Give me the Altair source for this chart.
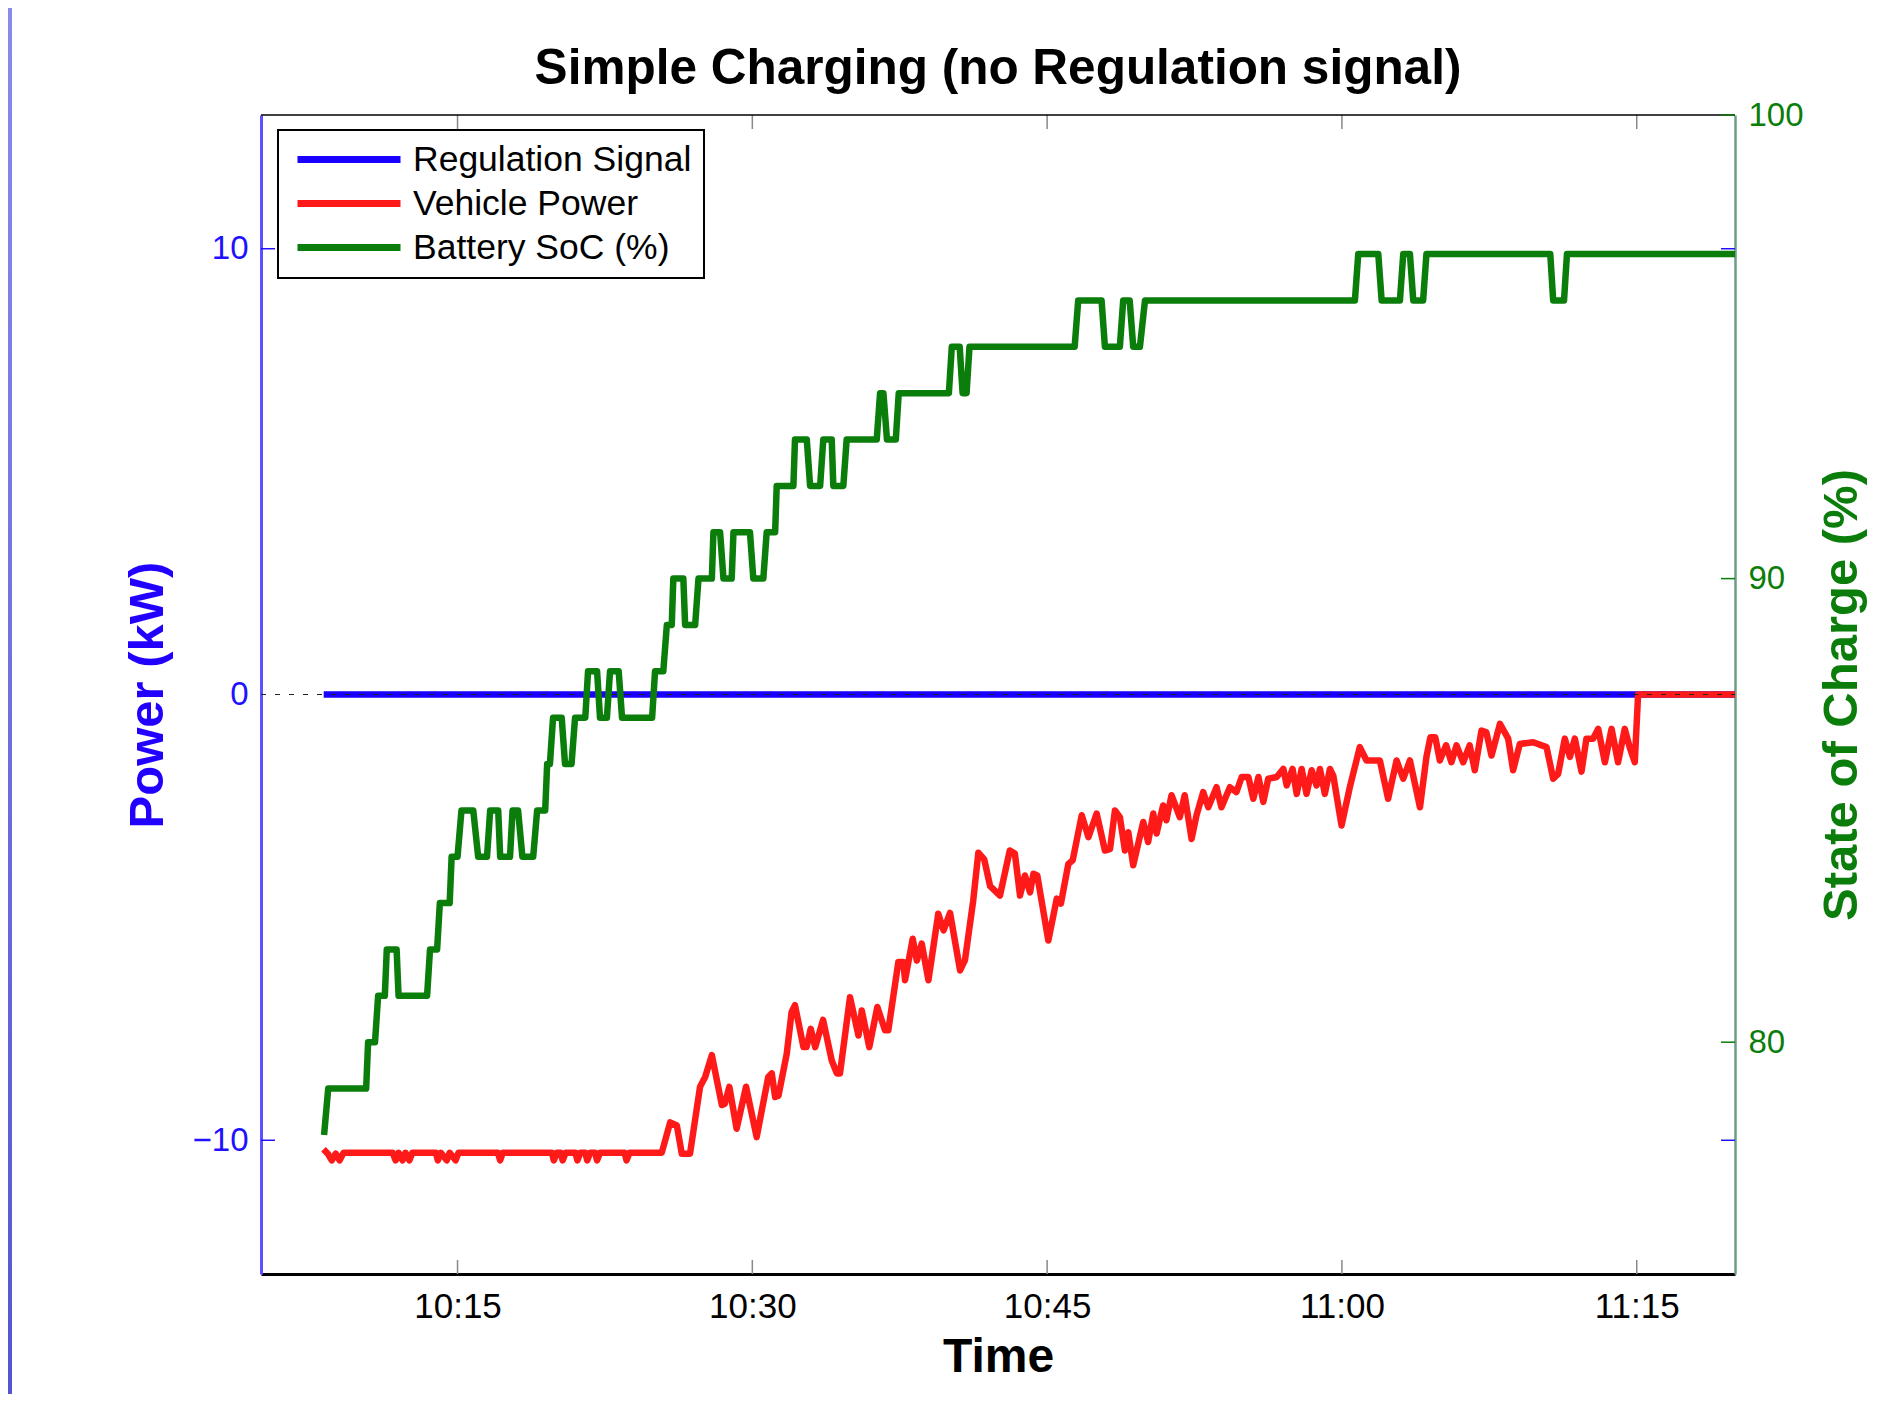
import altair as alt
import pandas as pd

# ---------------- data (time = minutes after 10:00) ----------------
SERIES = ["Regulation Signal", "Vehicle Power", "Battery SoC (%)"]
COLORS = ["#1a00ff", "#ff1a1a", "#0b7d0b"]

X_DOMAIN = [5, 80]
X_TICKS = [15, 30, 45, 60, 75]
KW_DOMAIN = [-13, 13]
KW_TICKS = [-10, 0, 10]
SOC_DOMAIN = [75, 100]
SOC_TICKS = [80, 90, 100]

REG = [(8.19, 0.0), (80.0, 0.0)]

PWR = [
    (8.18, -10.2), (8.4, -10.3), (8.6, -10.45), (8.8, -10.3), (9.0, -10.45), (9.2, -10.28),
    (11.7, -10.28), (11.85, -10.45), (12.0, -10.28), (12.2, -10.45), (12.35, -10.28),
    (12.55, -10.45), (12.7, -10.28), (13.9, -10.28), (14.0, -10.45), (14.15, -10.28),
    (14.45, -10.45), (14.6, -10.28), (14.9, -10.45), (15.05, -10.28), (17.05, -10.28),
    (17.17, -10.45), (17.3, -10.28), (19.8, -10.28), (19.9, -10.45), (20.05, -10.28),
    (20.25, -10.28), (20.35, -10.45), (20.5, -10.28), (21.0, -10.28), (21.1, -10.45),
    (21.25, -10.28), (21.5, -10.28), (21.6, -10.45), (21.75, -10.28), (22.0, -10.28),
    (22.1, -10.45), (22.25, -10.28), (23.5, -10.28), (23.6, -10.45), (23.75, -10.28),
    (25.39, -10.28), (25.82, -9.6), (26.16, -9.67), (26.41, -10.3), (26.83, -10.3),
    (27.34, -8.8), (27.6, -8.58), (27.94, -8.09), (28.45, -9.21), (28.6, -9.18),
    (28.83, -8.8), (29.2, -9.74), (29.68, -8.8), (30.22, -9.93), (30.81, -8.58),
    (30.99, -8.5), (31.16, -9.03), (31.33, -9.0), (31.75, -8.06), (32.0, -7.12),
    (32.17, -6.97), (32.6, -7.91), (32.76, -7.91), (32.97, -7.5), (33.2, -7.91),
    (33.35, -7.68), (33.6, -7.3), (34.04, -8.21), (34.3, -8.5), (34.46, -8.5),
    (34.97, -6.79), (35.4, -7.65), (35.57, -7.09), (35.95, -7.91), (36.36, -7.01),
    (36.75, -7.53), (36.92, -7.53), (37.43, -6.0), (37.68, -6.0), (37.77, -6.41),
    (38.16, -5.48), (38.37, -5.97), (38.62, -5.59), (38.96, -6.41), (39.46, -4.92),
    (39.73, -5.29), (40.06, -4.9), (40.57, -6.19), (40.82, -5.96), (41.24, -4.62),
    (41.5, -3.55), (41.8, -3.7), (42.1, -4.3), (42.6, -4.51), (43.1, -3.5),
    (43.36, -3.57), (43.62, -4.51), (43.87, -4.06), (44.13, -4.44), (44.3, -4.02),
    (44.5, -4.06), (45.06, -5.52), (45.49, -4.58), (45.7, -4.69), (46.08, -3.8),
    (46.3, -3.72), (46.76, -2.71), (47.1, -3.2), (47.52, -2.67), (47.94, -3.5),
    (48.2, -3.47), (48.45, -2.6), (48.7, -2.75), (48.96, -3.5), (49.13, -3.09),
    (49.38, -3.83), (49.89, -2.86), (50.14, -3.31), (50.4, -2.67), (50.57, -3.12),
    (50.9, -2.49), (51.07, -2.82), (51.33, -2.26), (51.75, -2.75), (52.0, -2.26),
    (52.35, -3.24), (52.6, -2.71), (52.94, -2.19), (53.2, -2.53), (53.62, -2.08),
    (53.87, -2.53), (54.3, -2.08), (54.63, -2.19), (54.9, -1.85), (55.24, -1.85),
    (55.49, -2.34), (55.75, -1.85), (56.0, -2.41), (56.25, -1.89), (56.68, -1.85),
    (57.02, -1.67), (57.19, -2.04), (57.49, -1.67), (57.7, -2.23), (57.95, -1.67),
    (58.2, -2.23), (58.46, -1.7), (58.71, -2.04), (58.88, -1.67), (59.13, -2.23),
    (59.39, -1.67), (59.56, -1.82), (59.98, -2.94), (60.4, -2.08), (60.91, -1.18),
    (61.25, -1.48), (61.93, -1.48), (62.35, -2.34), (62.78, -1.48), (63.12, -1.89),
    (63.46, -1.48), (63.97, -2.53), (64.3, -1.4), (64.5, -0.96), (64.75, -0.96),
    (64.98, -1.48), (65.3, -1.14), (65.57, -1.52), (65.83, -1.14), (66.17, -1.52),
    (66.5, -1.14), (66.76, -1.7), (67.1, -0.81), (67.35, -0.85), (67.61, -1.37),
    (68.04, -0.66), (68.46, -0.99), (68.71, -1.7), (69.05, -1.11), (69.73, -1.07),
    (70.41, -1.18), (70.75, -1.89), (71.0, -1.78), (71.34, -0.99), (71.6, -1.4),
    (71.85, -0.99), (72.19, -1.73), (72.44, -0.99), (72.78, -0.99), (73.04, -0.77),
    (73.38, -1.52), (73.72, -0.77), (74.05, -1.52), (74.39, -0.77), (74.64, -1.18),
    (74.9, -1.52), (75.07, 0.0), (80.0, 0.0),
]

SOC = [
    (8.21, 78), (8.42, 79), (10.35, 79), (10.45, 80), (10.8, 80), (10.96, 81),
    (11.3, 81), (11.4, 82), (11.9, 82), (12.0, 81), (13.45, 81), (13.6, 82),
    (13.96, 82), (14.1, 83), (14.6, 83), (14.7, 84), (15.0, 84), (15.2, 85),
    (15.8, 85), (16.05, 84), (16.5, 84), (16.66, 85), (17.07, 85), (17.17, 84),
    (17.67, 84), (17.8, 85), (18.08, 85), (18.3, 84), (18.85, 84), (19.05, 85),
    (19.46, 85), (19.56, 86), (19.7, 86), (19.86, 87), (20.3, 87), (20.47, 86),
    (20.8, 86), (20.98, 87), (21.5, 87), (21.64, 88), (22.1, 88), (22.25, 87),
    (22.6, 87), (22.76, 88), (23.2, 88), (23.37, 87), (24.9, 87), (25.05, 88),
    (25.47, 88), (25.65, 89), (25.9, 89), (25.98, 90), (26.49, 90), (26.58, 89),
    (27.09, 89), (27.26, 90), (27.94, 90), (28.02, 91), (28.36, 91), (28.53, 90),
    (28.95, 90), (29.04, 91), (29.88, 91), (30.05, 90), (30.56, 90), (30.73, 91),
    (31.16, 91), (31.24, 92), (32.09, 92), (32.17, 93), (32.77, 93), (32.94, 92),
    (33.45, 92), (33.61, 93), (34.04, 93), (34.12, 92), (34.63, 92), (34.8, 93),
    (36.33, 93), (36.5, 94), (36.67, 94), (36.85, 93), (37.3, 93), (37.45, 94),
    (40.0, 94), (40.15, 95), (40.55, 95), (40.7, 94), (40.9, 94), (41.05, 95),
    (46.4, 95), (46.58, 96), (47.77, 96), (47.94, 95), (48.7, 95), (48.87, 96),
    (49.2, 96), (49.38, 95), (49.72, 95), (49.98, 96), (60.66, 96), (60.83, 97),
    (61.85, 97), (62.02, 96), (62.95, 96), (63.12, 97), (63.46, 97), (63.63, 96),
    (64.13, 96), (64.3, 97), (70.6, 97), (70.75, 96), (71.3, 96), (71.45, 97),
    (80.0, 97),
]

# ---------------- layout / style ----------------
W, H = 1474, 1159
PAD = {"left": 253, "top": 107, "right": 140, "bottom": 120}
FONT = "Liberation Sans"
TICK = 14
BLUE_TXT = "#2010ff"
GREEN_TXT = "#0b7d0b"


def frame(pairs, name):
    return pd.DataFrame({"t": [p[0] for p in pairs],
                         "v": [p[1] for p in pairs],
                         "series": name})


reg_df = frame(REG, SERIES[0])
pwr_df = frame(PWR, SERIES[1])
soc_df = frame(SOC, SERIES[2])

x_enc = alt.X(
    "t:Q",
    scale=alt.Scale(domain=X_DOMAIN, nice=False, zero=False),
    axis=alt.Axis(
        values=X_TICKS,
        labelExpr="(10 + floor(datum.value / 60)) + ':' + format(datum.value % 60, '02')",
        title="Time", ticks=False, grid=False,
        domainColor="black", domainWidth=3,
        labelFont=FONT, labelFontSize=35, labelColor="black", labelPadding=15,
        labelFlush=False, labelOverlap=False,
        titleFont=FONT, titleFontSize=48, titleFontWeight="bold", titleColor="black",
        titleY=97, titleBaseline="alphabetic",
    ),
)

y_left = alt.Y(
    "v:Q",
    scale=alt.Scale(domain=KW_DOMAIN, nice=False, zero=False),
    axis=alt.Axis(
        orient="left", values=KW_TICKS, title="Power (kW)", ticks=False, grid=False,
        domainColor="#5c50ff", domainWidth=3,
        labelFont=FONT, labelFontSize=33, labelColor=BLUE_TXT, labelPadding=13,
        labelFlush=False, labelOverlap=False,
        titleFont=FONT, titleFontSize=49, titleFontWeight="bold", titleColor="#2200ff",
        titleAngle=270, titleX=-99, titleBaseline="alphabetic",
    ),
)

y_right = alt.Y(
    "v:Q",
    scale=alt.Scale(domain=SOC_DOMAIN, nice=False, zero=False),
    axis=alt.Axis(
        orient="right", values=SOC_TICKS, title="State of Charge (%)", ticks=False, grid=False,
        domainColor="#6b9c84", domainWidth=2.5,
        labelFont=FONT, labelFontSize=33, labelColor=GREEN_TXT, labelPadding=13,
        labelFlush=False, labelOverlap=False,
        titleFont=FONT, titleFontSize=49, titleFontWeight="bold", titleColor=GREEN_TXT,
        titleAngle=270, titleX=121, titleBaseline="alphabetic",
    ),
)

color_enc = alt.Color(
    "series:N",
    scale=alt.Scale(domain=SERIES, range=COLORS),
    legend=alt.Legend(
        orient="none", legendX=17, legendY=15, title=None,
        symbolType="stroke", symbolSize=103 * 103, symbolStrokeWidth=7,
        clipHeight=35, rowPadding=8, labelOffset=9, symbolOffset=4,
        labelFont=FONT, labelFontSize=35.5, labelColor="black", labelLimit=0,
        padding=12, strokeColor="black", fillColor="white",
    ),
)

line_style = dict(strokeWidth=6.5, strokeJoin="round")

dummy = pd.DataFrame({"a": [0]})
band = alt.Chart(dummy).mark_rect(
    fill={"gradient": "linear", "x1": 0, "x2": 0, "y1": 0, "y2": 1,
          "stops": [{"offset": 0, "color": "#8a8aec"}, {"offset": 1, "color": "#5555d0"}]}
).encode(x=alt.value(-PAD["left"]), x2=alt.value(-PAD["left"] + 4),
         y=alt.value(-PAD["top"]), y2=alt.value(H + PAD["bottom"]))

blue = alt.Chart(reg_df).mark_line(**line_style).encode(x=x_enc, y=y_left, color=color_enc)
red = alt.Chart(pwr_df).mark_line(**line_style).encode(x=x_enc, y=y_left, color=color_enc)

zero_df = pd.DataFrame({"v": [0]})
zero_line = alt.Chart(zero_df).mark_rule(strokeDash=[5, 9], strokeWidth=1.2, color="#222222").encode(
    y=y_left, x=alt.value(0), x2=alt.value(W))

kw_tick_df = pd.DataFrame({"v": [k for k in KW_TICKS if k != 0]})
kw_ticks_l = alt.Chart(kw_tick_df).mark_rule(color=BLUE_TXT, strokeWidth=1.5).encode(
    y=y_left, x=alt.value(0), x2=alt.value(TICK))
kw_ticks_r = alt.Chart(kw_tick_df).mark_rule(color=BLUE_TXT, strokeWidth=1.5).encode(
    y=y_left, x=alt.value(W - TICK), x2=alt.value(W))

xt_df = pd.DataFrame({"t": X_TICKS})
x_ticks_b = alt.Chart(xt_df).mark_rule(color="#888888", strokeWidth=1.5).encode(
    x=x_enc, y=alt.value(H - TICK), y2=alt.value(H))
x_ticks_t = alt.Chart(xt_df).mark_rule(color="#888888", strokeWidth=1.5).encode(
    x=x_enc, y=alt.value(0), y2=alt.value(TICK))
top_line = alt.Chart(dummy).mark_rule(color="black", strokeWidth=1.5).encode(
    x=alt.value(0), x2=alt.value(W), y=alt.value(0))

green = alt.Chart(soc_df).mark_line(**line_style).encode(x=x_enc, y=y_right, color=color_enc)
soc_tick_df = pd.DataFrame({"v": SOC_TICKS})
soc_ticks = alt.Chart(soc_tick_df).mark_rule(color=GREEN_TXT, strokeWidth=1.5).encode(
    y=y_right, x=alt.value(W - TICK), x2=alt.value(W))

left = alt.layer(band, x_ticks_b, x_ticks_t, top_line, kw_ticks_l, kw_ticks_r, blue, red, zero_line)
right = alt.layer(green, soc_ticks)

chart = alt.layer(left, right).resolve_scale(y="independent").properties(
    width=W, height=H, padding=PAD,
    autosize=alt.AutoSizeParams(type="none"),
    background="white",
    title=alt.TitleParams(
        text="Simple Charging (no Regulation signal)", font=FONT, fontSize=49.5,
        fontWeight="bold", color="black", anchor="middle", baseline="alphabetic",
        offset=-125,
    ),
).configure_view(stroke="transparent").configure_legend(strokeWidth=2)

chart.save("out.html", embed_options={"renderer": "svg", "actions": False})
